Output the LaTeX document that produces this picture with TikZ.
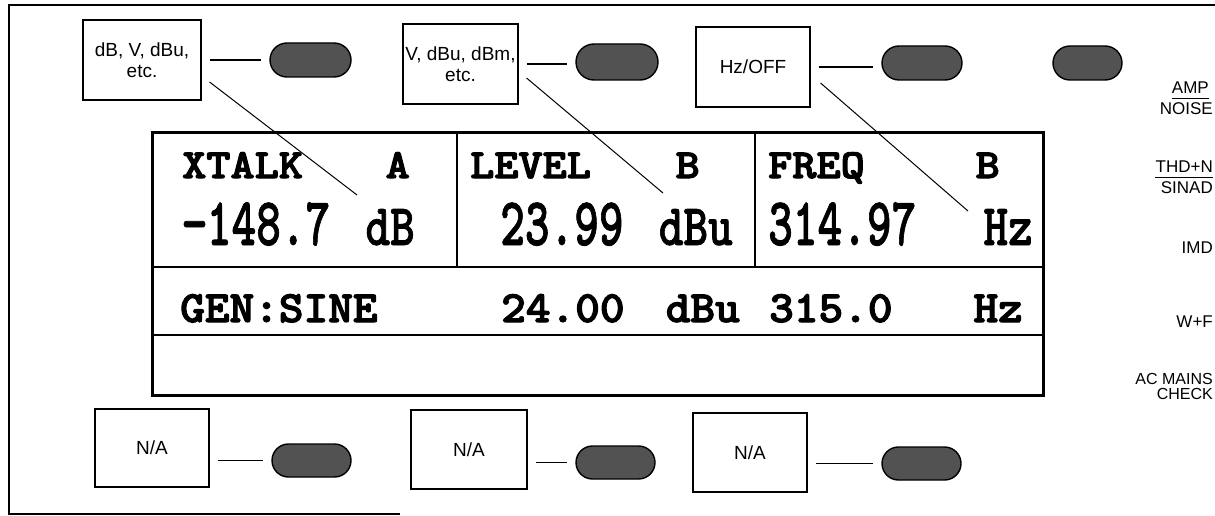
\documentclass[tikz,border=0pt]{standalone}
\usepackage{fontspec}
\usepackage{graphicx}
\setmainfont{Liberation Sans}
\newfontfamily\lcdfont[Extension=.otf,FakeBold=2.5]{lmmonolt10-bold}
\newfontfamily\lcdnum[Extension=.otf,FakeBold=1.3]{lmmonolt10-bold}
\usetikzlibrary{shapes.misc,calc}
\newcommand\lcdH[1]{\scalebox{1}[0.9]{\fontsize{46}{46}\selectfont\lcdfont #1}}
\newcommand\lcdV[1]{\scalebox{1}[1.45]{\fontsize{47}{47}\selectfont\lcdnum #1}}
\newcommand\lcdU[1]{\scalebox{1}[1.25]{\fontsize{47}{47}\selectfont\lcdnum #1}}
\newcommand\lcdG[1]{\scalebox{1}[0.95]{\fontsize{47}{47}\selectfont\lcdfont #1}}
\tikzset{
  labelbox/.style={draw,line width=1.1pt,inner sep=0pt,align=center,
    font=\fontsize{19}{21}\selectfont},
  btn/.style={rounded rectangle,draw,line width=1.4pt,fill=black!68,inner sep=0pt},
  conn/.style={line width=1.3pt,shorten <=8pt,shorten >=8pt},
  lead/.style={line width=1pt},
  lcd/.style={inner sep=0pt},
  side/.style={inner sep=0pt,font=\fontsize{17}{17}\selectfont},
  frameline/.style={line width=1.4pt},
  disp/.style={line width=3pt},
  divider/.style={line width=2pt}
}
\begin{document}
\begin{tikzpicture}[x=1pt,y=-1pt]
\useasboundingbox (0,0) rectangle (1215,516);
\fill[white] (0,0) rectangle (1215,516);
% outer frame
\draw[frameline] (1215,5) -- (9,5) -- (9,514) -- (400,514);
% display
\draw[disp] (152,133) rectangle (1043,395);
\draw[divider] (152,267) -- (1043,267);
\draw[divider] (152,335) -- (1043,335);
\draw[divider] (457,133) -- (457,267);
\draw[divider] (755,133) -- (755,267);
% display texts
\node[lcd,anchor=base west] (h1) at (182,178) {\lcdH{XTALK}};
\node[lcd,anchor=base east] (c1) at (410,178) {\lcdH{A}};
\node[lcd,anchor=base west] (v1) at (182,245) {\lcdV{−148.7}};
\node[lcd,anchor=base east] (u1) at (415,245) {\lcdU{dB}};
\node[lcd,anchor=base west] (h2) at (470,178) {\lcdH{LEVEL}};
\node[lcd,anchor=base east] (c2) at (700,178) {\lcdH{B}};
\node[lcd,anchor=base west] (v2) at (500,245) {\lcdV{23.99}};
\node[lcd,anchor=base east] (u2) at (733,245) {\lcdU{dBu}};
\node[lcd,anchor=base west] (h3) at (768,178) {\lcdH{FREQ}};
\node[lcd,anchor=base east] (c3) at (1000,178) {\lcdH{B}};
\node[lcd,anchor=base west] (v3) at (768,245) {\lcdV{314.97}};
\node[lcd,anchor=base east] (u3) at (1033,245) {\lcdU{Hz}};
\node[lcd,anchor=base west] (g1) at (180,322) {\lcdG{GEN:SINE}};
\node[lcd,anchor=base west] (g2) at (501,322) {\lcdG{24.00}};
\node[lcd,anchor=base east] (g3) at (740,322) {\lcdG{dBu}};
\node[lcd,anchor=base west] (g4) at (769,322) {\lcdG{315.0}};
\node[lcd,anchor=base east] (g5) at (1023,322) {\lcdG{Hz}};
% top soft-key labels
\node[labelbox,minimum width=118pt,minimum height=80pt] (b1) at (142,60) {dB, V, dBu,\\etc.};
\node[labelbox,minimum width=115pt,minimum height=80pt] (b2) at (460.5,64) {V, dBu, dBm,\\etc.};
\node[labelbox,minimum width=114pt,minimum height=80pt] (b3) at (753,67) {Hz/OFF};
% top keys
\node[btn,minimum width=81pt,minimum height=34pt] (o1) at (310.5,60) {};
\node[btn,minimum width=82pt,minimum height=36pt] (o2) at (617,62) {};
\node[btn,minimum width=80pt,minimum height=34pt] (o3) at (922,63) {};
\node[btn,minimum width=69pt,minimum height=34pt] (o4) at (1087.5,63) {};
\draw[conn] (b1.east) -- (b1.east -| o1.west);
\draw[conn] (b2.east) -- (b2.east -| o2.west);
\draw[conn] (b3.east) -- (b3.east -| o3.west);
% bottom soft-key labels
\node[labelbox,minimum width=114pt,minimum height=78pt] (n1) at (152,448) {N/A};
\node[labelbox,minimum width=116pt,minimum height=79pt] (n2) at (469,449.5) {N/A};
\node[labelbox,minimum width=114pt,minimum height=79pt] (n3) at (750,452.5) {N/A};
\node[btn,minimum width=79pt,minimum height=33pt] (p1) at (311.5,460.5) {};
\node[btn,minimum width=79pt,minimum height=33pt] (p2) at (615.5,462.5) {};
\node[btn,minimum width=79pt,minimum height=33pt] (p3) at (921.5,463.5) {};
\draw[conn] (p1.west -| n1.east) -- (p1.west);
\draw[conn] (p2.west -| n2.east) -- (p2.west);
\draw[conn] (p3.west -| n3.east) -- (p3.west);
% leader lines
\coordinate (t1) at (357,195);
\coordinate (t2) at (663,193);
\coordinate (t3) at (968,211);
\draw[lead] ([shift={(8,22)}]b1.east) -- (t1);
\draw[lead] ([shift={(8,14)}]b2.east) -- (t2);
\draw[lead] ([shift={(10,16)}]b3.east) -- (t3);
% right-hand labels
\node[side,anchor=east] (amp) at (1209,88) {AMP};
\node[side,anchor=east] (noise) at (1213,109) {NOISE};
\draw[line width=1pt] (amp.west |- 0,98.5) -- (1209,98.5);
\node[side,anchor=east] (thd) at (1213,167) {THD+N};
\node[side,anchor=east] (sinad) at (1213,188) {SINAD};
\draw[line width=1pt] (thd.west |- 0,177.5) -- (1213,177.5);
\node[side,anchor=east] (imd) at (1213,248) {IMD};
\node[side,anchor=east] (wf) at (1213,322) {W+F};
\node[side,anchor=east,align=right,font=\fontsize{16}{15}\selectfont] (acm) at (1213,386) {AC MAINS\\CHECK};
\end{tikzpicture}
\end{document}
